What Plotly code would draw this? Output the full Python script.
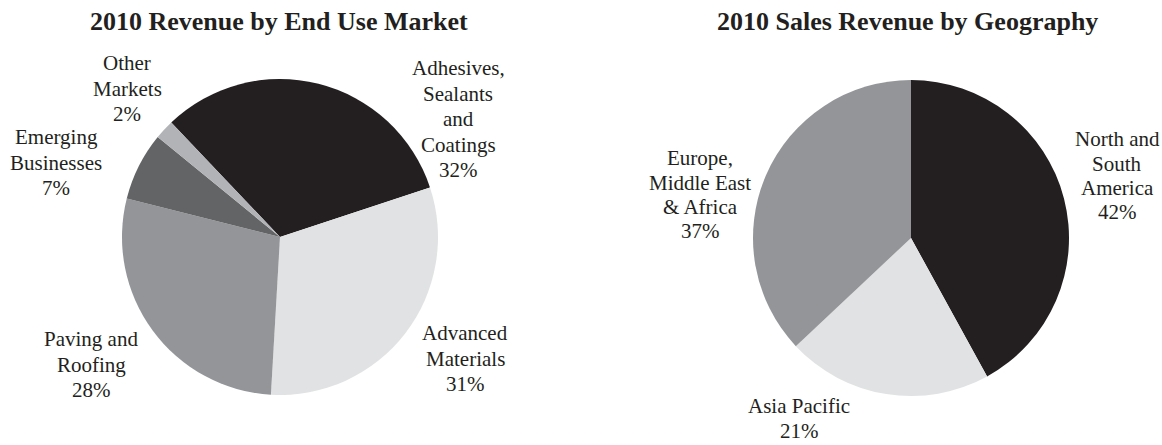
import plotly.graph_objects as go

# ---- data ----
market_labels = ["Adhesives,<br>Sealants<br>and<br>Coatings", "Advanced<br>Materials",
                 "Paving and<br>Roofing", "Emerging<br>Businesses", "Other<br>Markets"]
market_values = [32, 31, 28, 7, 2]
market_colors = ["#231f20", "#e1e2e3", "#939598", "#636466", "#b1b3b6"]

geo_labels = ["North and<br>South<br>America", "Asia Pacific", "Europe,<br>Middle East<br>& Africa"]
geo_values = [42, 21, 37]
geo_colors = ["#231f20", "#e1e2e3", "#939598"]

titles = ["2010 Revenue by End Use Market", "2010 Sales Revenue by Geography"]

# ---- layout helpers (pixel geometry, screen coords) ----
W, H = 1162, 445
R = 158
left_c = (280, 237)
right_c = (911, 238)

def px(x):
    return x / W

def py(y):
    return (H - y) / H

def dom(c):
    cx, cy = c
    return dict(x=[px(cx - R), px(cx + R)],
                y=[py(cy + R), py(cy - R)])

# label anchor positions (pixel x center, pixel y of first line)
market_pos = [(458, 68), (465, 333), (91, 339), (56, 137), (127, 63)]
geo_pos = [(1117, 139), (799, 406), (700, 158)]
LINE = 25.5
FONT = "Liberation Serif, Times New Roman, serif"
TXT = "#231f20"

fig = go.Figure()
fig.add_trace(go.Pie(values=market_values, labels=[l.replace("<br>", " ") for l in market_labels],
                     marker=dict(colors=market_colors, line=dict(width=0)),
                     sort=False, direction="clockwise", rotation=316.5,
                     textinfo="none", hoverinfo="label+percent",
                     domain=dom(left_c), showlegend=False))
fig.add_trace(go.Pie(values=geo_values, labels=[l.replace("<br>", " ") for l in geo_labels],
                     marker=dict(colors=geo_colors, line=dict(width=0)),
                     sort=False, direction="clockwise", rotation=0,
                     textinfo="none", hoverinfo="label+percent",
                     domain=dom(right_c), showlegend=False))

annotations = []

def add_label(text, value, pos, line=LINE):
    lines = text.split("<br>") + [f"{value}%"]
    x, y0 = pos
    for i, ln in enumerate(lines):
        annotations.append(dict(x=px(x), y=py(y0 + i * line), xref="paper", yref="paper",
                                text=ln, showarrow=False, xanchor="center", yanchor="middle",
                                borderpad=0,
                                font=dict(family=FONT, size=21, color=TXT)))

for t, v, p in zip(market_labels, market_values, market_pos):
    add_label(t, v, p)
for t, v, p in zip(geo_labels, geo_values, geo_pos):
    add_label(t, v, p, line=24.5)

for t, xc in zip(titles, [279, 907]):
    annotations.append(dict(x=px(xc), y=py(22), xref="paper", yref="paper",
                            text=f"<b>{t}</b>", showarrow=False, xanchor="center", yanchor="middle",
                            font=dict(family=FONT, size=26, color=TXT)))

fig.update_layout(width=W, height=H, margin=dict(l=0, r=0, t=0, b=0),
                  paper_bgcolor="white", plot_bgcolor="white",
                  annotations=annotations, showlegend=False)

fig.write_html("out.html", config={"displayModeBar": False},
               post_script="document.body.style.margin='0';document.body.style.overflow='hidden';")
